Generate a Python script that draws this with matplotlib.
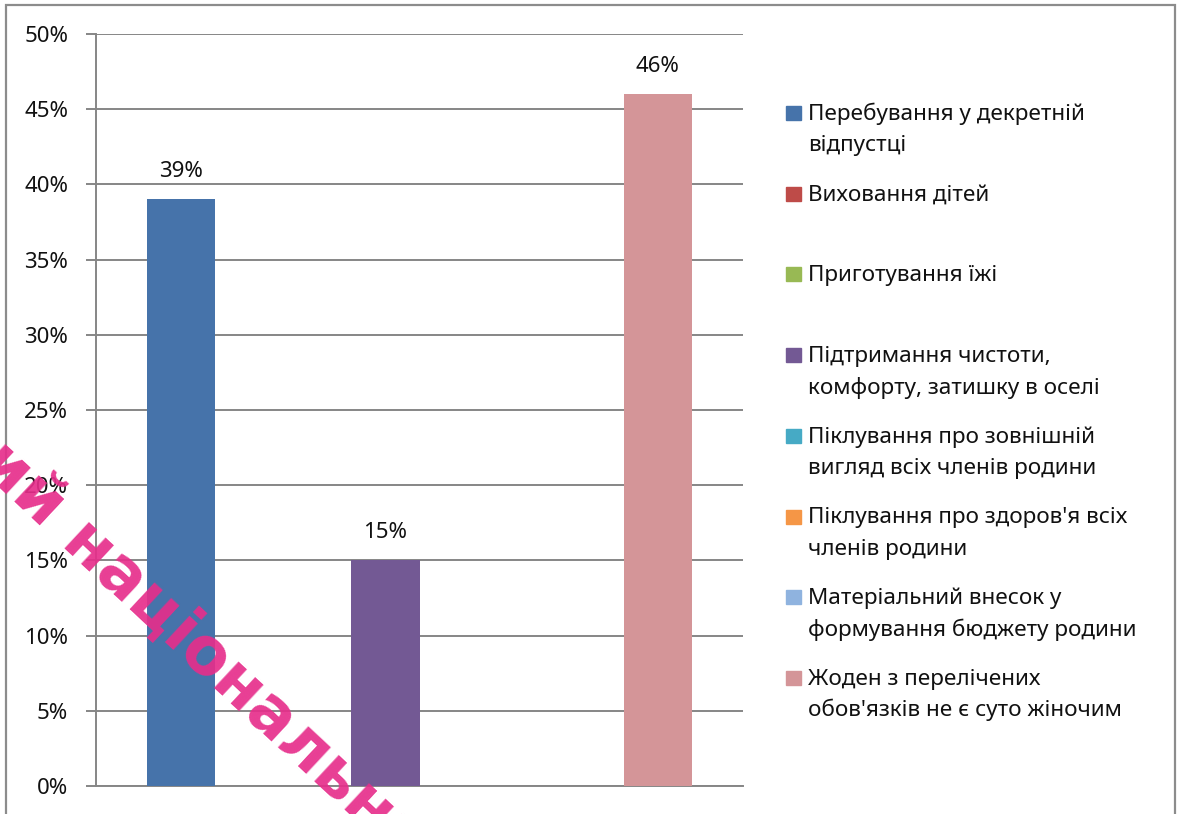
import matplotlib
matplotlib.use("Agg")
import matplotlib.pyplot as plt
from matplotlib.patches import Rectangle
from matplotlib.ticker import FuncFormatter

# ---- data ----
series_labels = [
    "Перебування у декретній\nвідпустці",
    "Виховання дітей",
    "Приготування їжі",
    "Підтримання чистоти,\nкомфорту, затишку в оселі",
    "Піклування про зовнішній\nвигляд всіх членів родини",
    "Піклування про здоров'я всіх\nчленів родини",
    "Матеріальний внесок у\nформування бюджету родини",
    "Жоден з перелічених\nобов'язків не є суто жіночим",
]
values = [39, 0, 0, 15, 0, 0, 0, 46]
colors = ["#4673AA", "#BE4B48", "#98B954", "#735994",
          "#46AAC5", "#F59646", "#8FB3DF", "#D49598"]
y_ticks = [0, 5, 10, 15, 20, 25, 30, 35, 40, 45, 50]

W, H = 1180, 814
plt.rcParams['font.family'] = ['Noto Sans', 'DejaVu Sans']
fig = plt.figure(figsize=(W / 100, H / 100), dpi=100)
fig.patch.set_facecolor("white")

# outer frame
fig.add_artist(Rectangle((6 / W, -0.02), (1175 - 6) / W, 1 - 5 / H + 0.02,
                         transform=fig.transFigure, fill=False,
                         edgecolor="#8c8c8c", linewidth=1.6))

ax = fig.add_axes([96 / W, 1 - 786 / H, (743 - 96) / W, (786 - 34) / H])
n = len(values)
w = 1.0 / (n + 1.5)
xs = [(i - (n - 1) / 2) * w for i in range(n)]
bars = ax.bar(xs, values, width=w, color=colors, zorder=3)
ax.set_xlim(-0.5, 0.5)
ax.set_ylim(0, 50)
ax.set_yticks(y_ticks)
ax.yaxis.set_major_formatter(FuncFormatter(lambda v, p: f"{v:.0f}%"))
ax.set_xticks([])
ax.grid(axis="y", color="#868686", linewidth=1.4, zorder=0)
ax.set_axisbelow(True)
for s in ["top", "right"]:
    ax.spines[s].set_visible(False)
for s in ["left", "bottom"]:
    ax.spines[s].set_color("#868686")
    ax.spines[s].set_linewidth(1.4)
ax.tick_params(axis="y", length=7, width=1.4, color="#868686",
               labelsize=16, pad=13, labelcolor="#111111")

for b, v in zip(bars, values):
    if v:
        ax.annotate(f"{v}%", (b.get_x() + b.get_width() / 2, v),
                    xytext=(0, 20), textcoords="offset points",
                    ha="center", va="center", fontsize=16, color="#111111")

# legend (manual, evenly distributed like the original)
base0, step, line_gap = 120, 80.7, 31.5
for i, (lab, c) in enumerate(zip(series_labels, colors)):
    yb = base0 + i * step
    fig.add_artist(Rectangle((786 / W, 1 - yb / H), 15 / W, 14 / H,
                             transform=fig.transFigure, color=c))
    for j, line in enumerate(lab.split("\n")):
        fig.text(808 / W, 1 - (yb + j * line_gap) / H, line,
                 ha="left", va="baseline", fontsize=16.2, color="#111111")

# watermark
fig.text(-24 / W, 1 - 466 / H, "ий національний", rotation=-43,
         rotation_mode="anchor", ha="left", va="baseline",
         fontsize=47, fontweight="bold", color="#E62E8B", alpha=0.92,
         family=["DejaVu Sans"], zorder=10)

fig.savefig("out.png", dpi=100)
